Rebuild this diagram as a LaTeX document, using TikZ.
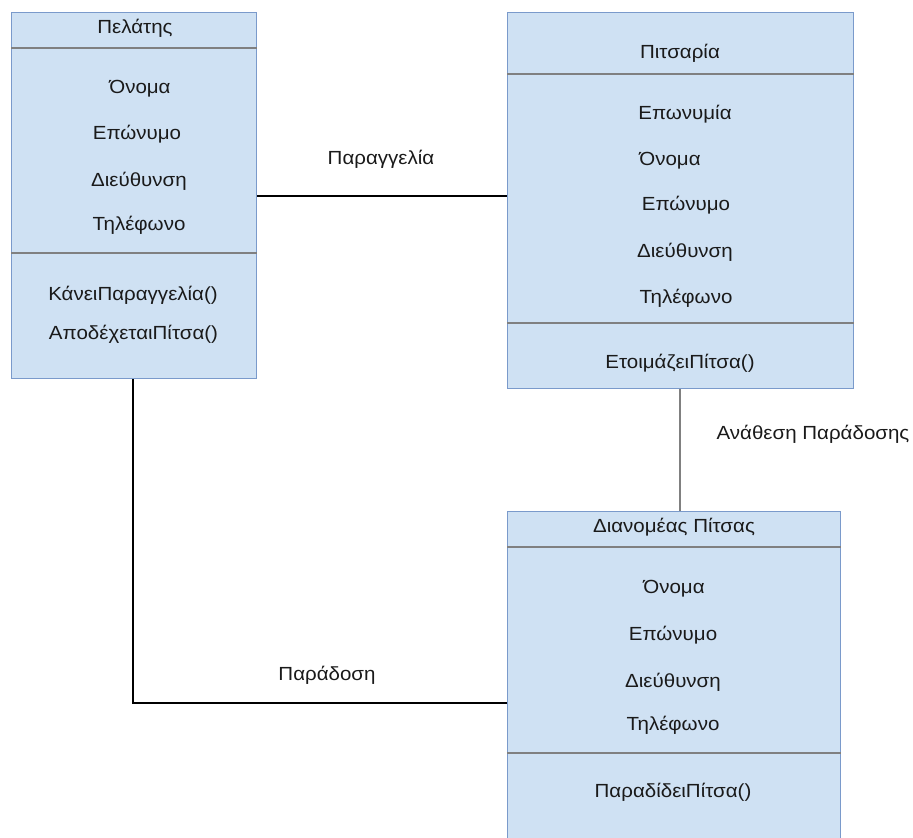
\documentclass[tikz,border=0pt]{standalone}
\usepackage{fontspec}
\setmainfont{Liberation Sans}[FakeStretch=1.08]
\definecolor{boxfill}{HTML}{CFE1F3}
\definecolor{boxline}{HTML}{7A9ACB}
\definecolor{sepline}{HTML}{808080}
\definecolor{txt}{HTML}{1A1A1A}
\begin{document}
\begin{tikzpicture}[x=1pt,y=-1pt,
  umlbox/.style={draw=boxline,fill=boxfill,line width=1.3pt,rectangle,inner sep=0pt,anchor=north west},
  sep/.style={draw=sepline,line width=1.4pt},
  lbl/.style={font=\fontsize{19}{22}\selectfont,text=txt,inner sep=0pt,anchor=base},
  conn/.style={draw=black,line width=1.3pt},
  gconn/.style={draw=sepline,line width=2pt}]
\useasboundingbox (0,0) rectangle (913,838);
\clip (0,0) rectangle (913,838);
% boxes
\node[umlbox,minimum width=245pt,minimum height=366pt] (A) at (11,12) {};
\node[umlbox,minimum width=346pt,minimum height=376pt] (B) at (507,12) {};
\node[umlbox,minimum width=333pt,minimum height=340pt] (C) at (507,511) {};
% separators
\draw[sep] (A.west |- 0,48) -- (A.east |- 0,48);
\draw[sep] (A.west |- 0,253) -- (A.east |- 0,253);
\draw[sep] (B.west |- 0,74) -- (B.east |- 0,74);
\draw[sep] (B.west |- 0,323) -- (B.east |- 0,323);
\draw[sep] (C.west |- 0,547) -- (C.east |- 0,547);
\draw[sep] (C.west |- 0,753) -- (C.east |- 0,753);
% texts A
\node[lbl] (a0) at (135,33) {Πελάτης};
\node[lbl] (a1) at (140,93) {Όνομα};
\node[lbl] (a2) at (137,139) {Επώνυμο};
\node[lbl] (a3) at (139,186) {Διεύθυνση};
\node[lbl] (a4) at (139,230) {Τηλέφωνο};
\node[lbl] (a5) at (133,300) {ΚάνειΠαραγγελία()};
\node[lbl] (a6) at (133.5,339) {ΑποδέχεταιΠίτσα()};
% texts B
\node[lbl] (b0) at (680,58) {Πιτσαρία};
\node[lbl] (b1) at (685,119) {Επωνυμία};
\node[lbl] (b2) at (670,165) {Όνομα};
\node[lbl] (b3) at (686,210) {Επώνυμο};
\node[lbl] (b4) at (685,257) {Διεύθυνση};
\node[lbl] (b5) at (686,303) {Τηλέφωνο};
\node[lbl] (b6) at (680,368) {ΕτοιμάζειΠίτσα()};
% texts C
\node[lbl] (c0) at (674,532) {Διανομέας Πίτσας};
\node[lbl] (c1) at (674,593) {Όνομα};
\node[lbl] (c2) at (673,640) {Επώνυμο};
\node[lbl] (c3) at (673,687) {Διεύθυνση};
\node[lbl] (c4) at (673,730) {Τηλέφωνο};
\node[lbl] (c5) at (673,797) {ΠαραδίδειΠίτσα()};
% connectors
\coordinate (bendAC) at (133,703);
\draw[conn] (A.east |- 0,196) -- (B.west |- 0,196);
\draw[gconn] (B.south -| 680,0) -- (C.north -| 680,0);
\draw[conn] (A.south -| 133,0) -- (bendAC) -- (C.west |- bendAC);
% connector labels
\node[lbl] (l1) at (381,164) {Παραγγελία};
\node[lbl] (l2) at (813,439) {Ανάθεση Παράδοσης};
\node[lbl] (l3) at (327,680) {Παράδοση};
\end{tikzpicture}
\end{document}
